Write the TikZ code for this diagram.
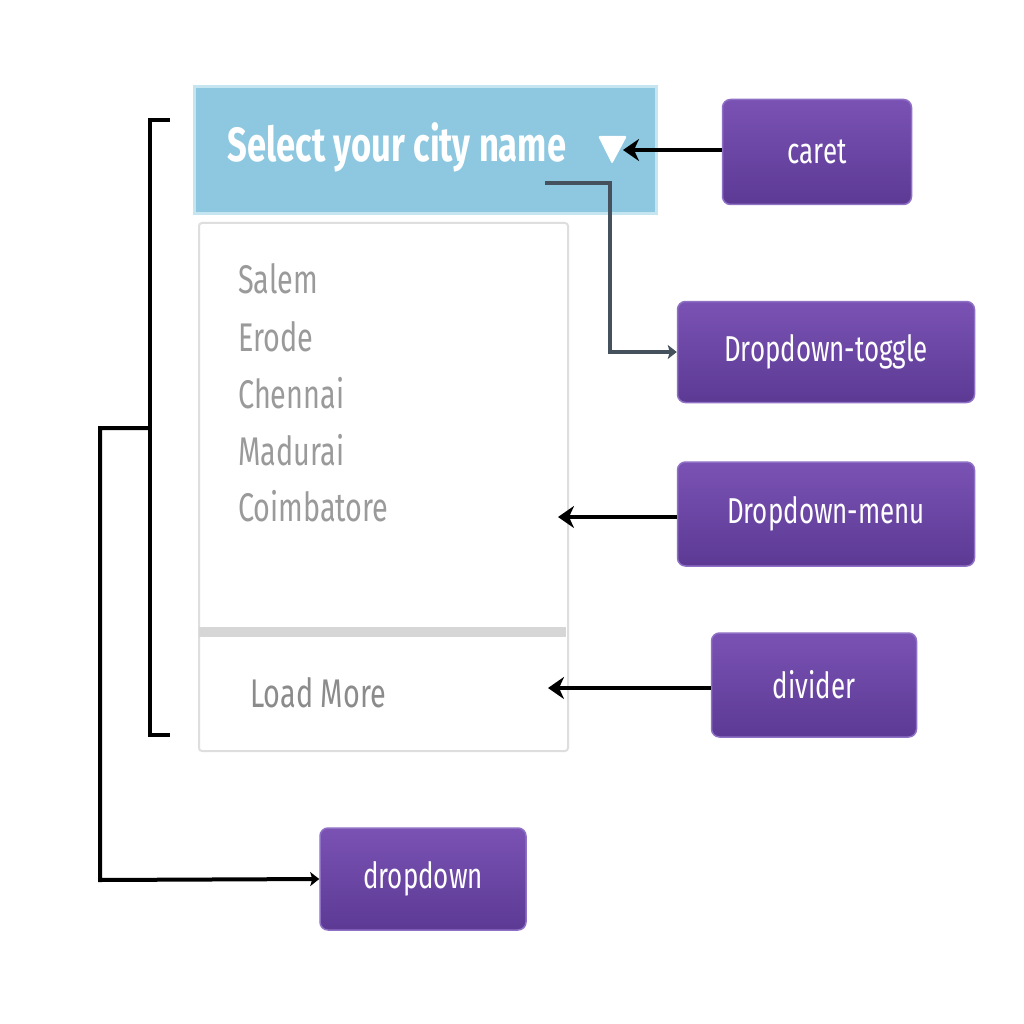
\documentclass[tikz,border=0pt]{standalone}
\usepackage{fontspec}
\setmainfont{Fira Sans}
\newfontfamily\cond[FakeStretch=0.72]{Fira Sans}
\usetikzlibrary{arrows.meta}
\definecolor{hdr}{HTML}{8DC8E0}
\definecolor{hdrEdge}{HTML}{C5E6F0}
\definecolor{purpTop}{HTML}{7A52B4}
\definecolor{purpBot}{HTML}{5C3A94}
\definecolor{purpEdge}{HTML}{8E70C4}
\definecolor{itemGray}{HTML}{9A9A9A}
\definecolor{panelEdge}{HTML}{DEDEDE}
\definecolor{divGray}{HTML}{D6D6D6}
\definecolor{toggleLine}{HTML}{45525E}
\begin{document}
\begin{tikzpicture}[x=1pt,y=-1pt,
  label/.style={rounded corners=8pt, top color=purpTop, bottom color=purpBot,
    draw=purpEdge, line width=1.5pt, text=white, inner sep=0pt,
    font=\cond\fontsize{36}{36}\selectfont},
  item/.style={anchor=base west, inner sep=0pt, text=itemGray,
    font=\cond\fontsize{40}{40}\selectfont},
  arr/.style={line width=4.5pt, black, -{Stealth[length=16pt,width=22pt,inset=5pt]}},
  brk/.style={line width=4pt, black},
  thinarr/.style={line width=4pt, toggleLine, -{Stealth[length=9pt,width=14pt,inset=2pt]}}
]
\useasboundingbox[fill=white] (0,0) rectangle (1024,1024);

% header
\node (header) [fill=hdr, draw=hdrEdge, line width=3pt, minimum width=462pt, minimum height=127pt,
  anchor=north west, inner sep=0pt] at (193,85) {};
\node (title) [text=white, inner sep=0pt, font=\cond\bfseries\fontsize{48}{48}\selectfont]
  at (397,147) {Select your city name};
\fill[white, rounded corners=2pt] (598,136) -- (627,136) -- (612,164) -- cycle;
\coordinate (caretTip) at (623,150);

% menu panel
\node (panel) [fill=white, draw=panelEdge, line width=2pt, minimum width=369pt, minimum height=528pt,
  anchor=north west, inner sep=0pt, rounded corners=3pt] at (198,222) {};
\fill[divGray] (199,627) rectangle (566,637);

\node (salem) [item] at (238,293) {Salem};
\node (erode) [item] at (238,351) {Erode};
\node (chennai) [item] at (238,408) {Chennai};
\node (madurai) [item] at (238,465) {Madurai};
\node (coimb) [item] at (238,521) {Coimbatore};
\node (load) [item, text=itemGray!90!black] at (250,707) {Load More};

\coordinate (menuTip) at (558,517);
\coordinate (divTip) at (548,688);

% purple labels
\node (caret) [label, minimum width=189pt, minimum height=105pt] at (817,152) {caret};
\node (toggle) [label, minimum width=297pt, minimum height=101pt] at (826,352) {Dropdown-toggle};
\node (dmenu) [label, minimum width=297pt, minimum height=104pt] at (826,514) {Dropdown-menu};
\node (divider) [label, minimum width=205pt, minimum height=104pt] at (814,685) {divider};
\node (dropdown) [label, minimum width=206pt, minimum height=102pt] at (423,879) {dropdown};

% arrows
\draw[arr] (caret.west |- caretTip) -- (caretTip);
\draw[arr] (dmenu.west |- menuTip) -- (menuTip);
\draw[arr] (divider.west |- divTip) -- (divTip);

\coordinate (tgStart) at (545,183);
\draw[thinarr] (tgStart) -- (610,183) -- (610,352) -- (toggle.west);

% bracket
\draw[brk] (170,120) -- (150,120) -- (150,735) -- (170,735);
\coordinate (brMid) at (150,428);
\draw[brk, -{Stealth[length=9pt,width=14pt,inset=2pt]}] (brMid) -- (100,428) -- (100,880) -- (dropdown.west);
\end{tikzpicture}
\end{document}
